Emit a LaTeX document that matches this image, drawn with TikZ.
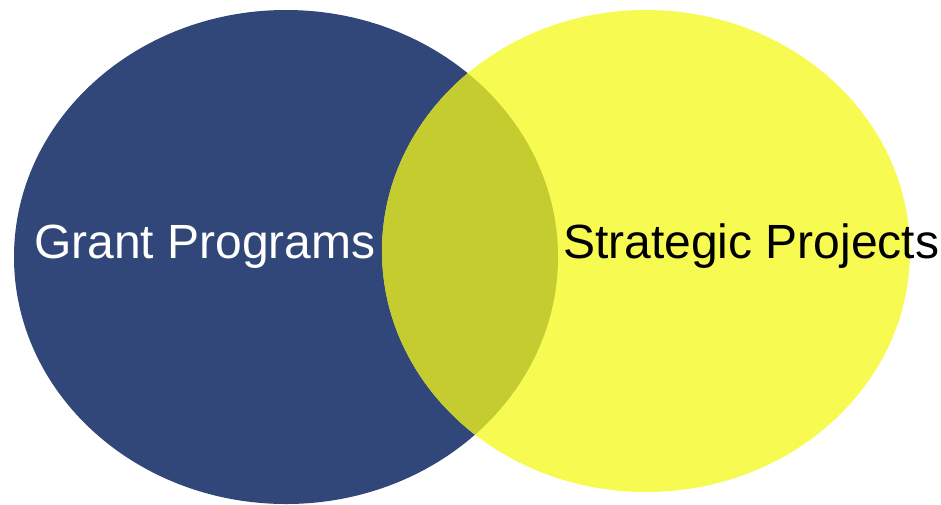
\documentclass[tikz,border=0pt]{standalone}
\usepackage{fontspec}
\setmainfont{Liberation Sans}
\definecolor{gpblue}{RGB}{49,71,122}
\definecolor{spyellow}{RGB}{247,250,80}
\definecolor{ovolive}{RGB}{196,204,48}
\begin{document}
\begin{tikzpicture}[x=1pt,y=-1pt,
  lbl/.style={inner sep=0pt,anchor=base west,font=\fontsize{48}{52}\selectfont}]
\useasboundingbox (0,0) rectangle (941,504);
\fill[gpblue] (286,257) ellipse [x radius=272, y radius=247];
\fill[spyellow] (646,251) ellipse [x radius=264, y radius=241];
\begin{scope}
  \clip (286,257) ellipse [x radius=272, y radius=247];
  \fill[ovolive] (646,251) ellipse [x radius=264, y radius=241];
\end{scope}
\node[lbl,text=white] (gp) at (34,258) {Grant Programs};
\node[lbl,text=black] (sp) at (563,258) {Strategic Projects};
\end{tikzpicture}
\end{document}
